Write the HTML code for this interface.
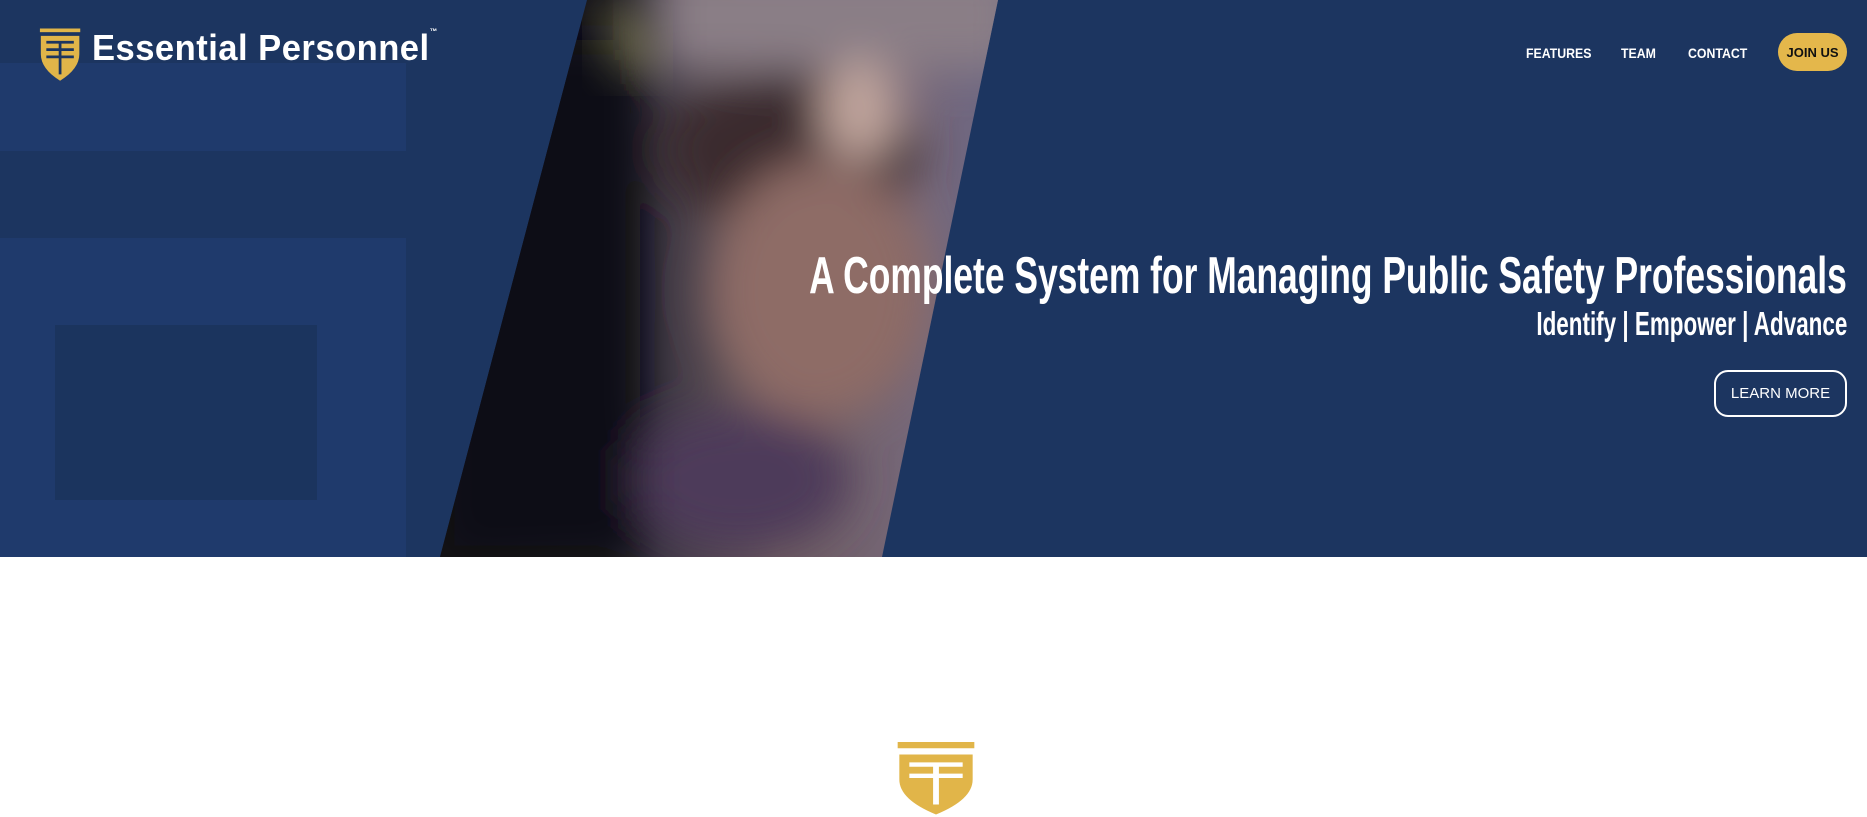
<!DOCTYPE html>
<html><head><meta charset="utf-8"><style>
*{margin:0;padding:0;box-sizing:border-box}
body{width:1867px;height:815px;overflow:hidden;background:#fff;font-family:"Liberation Sans",sans-serif;position:relative}
.hero{position:absolute;left:0;top:0;width:1867px;height:557px;background:#1c3560;overflow:hidden}
.blk{position:absolute;background:#1f3a6c}
.nav a{position:absolute;color:#fff;font-size:14px;font-weight:bold;text-decoration:none;top:45px;transform:scaleX(.88);transform-origin:left}
.title{position:absolute;right:20px;color:#fff;font-weight:bold;white-space:nowrap;transform-origin:right center}
</style></head><body>
<div class="hero">
  <div class="blk" style="left:0;top:63px;width:406px;height:88px"></div>
  <div class="blk" style="left:0;top:238px;width:406px;height:319px"></div>
  <div style="position:absolute;left:55px;top:325px;width:262px;height:175px;background:#1b345e"></div>
  <svg width="1867" height="557" style="position:absolute;left:0;top:0">
    <defs>
      <clipPath id="cp"><polygon points="587,0 998,0 882,557 440,557"/></clipPath>
      <filter id="bl" x="-20%" y="-20%" width="140%" height="140%"><feGaussianBlur stdDeviation="22"/></filter>
      <linearGradient id="g1" x1="0" y1="0" x2="1" y2="0">
        <stop offset="0" stop-color="#0c0a10"/><stop offset="0.3" stop-color="#15131b"/><stop offset="0.4" stop-color="#3e3844"/><stop offset="0.6" stop-color="#6e5c60"/><stop offset="0.85" stop-color="#76687a"/><stop offset="1" stop-color="#6a6684"/>
      </linearGradient>
    </defs>
    <g clip-path="url(#cp)">
      <rect x="430" y="0" width="580" height="557" fill="url(#g1)"/>
      <g filter="url(#bl)">
        <rect x="660" y="-40" width="360" height="110" fill="#8a7e86"/>
        <ellipse cx="790" cy="150" rx="130" ry="80" fill="#3a2c2e"/>
        <ellipse cx="820" cy="290" rx="110" ry="130" fill="#8e6c66"/>
        <ellipse cx="860" cy="110" rx="40" ry="50" fill="#c0a49c"/>
        <ellipse cx="740" cy="480" rx="110" ry="70" fill="#4e3a5a"/>
        <rect x="440" y="40" width="200" height="520" fill="#0e0c12"/>
      </g>
      <polygon points="595,10 630,0 660,60 620,80" fill="#a8a860" opacity="0.5" filter="url(#bl)"/>
    </g>
  </svg>
  <svg width="44" height="56" viewBox="0 0 48 60" style="position:absolute;left:39px;top:28px">
    <rect x="1" y="0" width="44" height="4" fill="#e1b549"/>
    <path d="M2 8 H44 V28 Q44 44 23 57 Q2 44 2 28 Z" fill="#e1b549"/>
    <path d="M8 15 H38 M8 23 H38 M8 31 H38 M23 15 V50" stroke="#1c3560" stroke-width="3"/>
  </svg>
  <div style="position:absolute;left:92px;top:27px;color:#fff;font-size:36px;font-weight:bold;letter-spacing:0.5px;transform:scaleX(.96);transform-origin:left">Essential Personnel<sup style="font-size:8px;vertical-align:top">™</sup></div>
  <div class="nav">
    <a style="left:1526px">FEATURES</a>
    <a style="left:1621px">TEAM</a>
    <a style="left:1688px">CONTACT</a>
  </div>
  <div style="position:absolute;left:1778px;top:33px;width:69px;height:38px;border-radius:19px;background:#e4b74b;color:#111;font-size:13px;font-weight:bold;display:flex;align-items:center;justify-content:center">JOIN US</div>
  <div class="title" style="top:246px;font-size:52px;transform:scaleX(.681)">A Complete System for Managing Public Safety Professionals</div>
  <div class="title" style="top:305px;font-size:33px;transform:scaleX(.68)">Identify | Empower | Advance</div>
  <div style="position:absolute;left:1714px;top:370px;width:133px;height:47px;border:2px solid #fff;border-radius:14px;color:#fff;font-size:15px;display:flex;align-items:center;justify-content:center">LEARN MORE</div>
</div>
<svg width="80" height="75" viewBox="0 0 48 60" preserveAspectRatio="none" style="position:absolute;left:896px;top:742px">
  <rect x="1" y="0" width="46" height="5" fill="#e1b549"/>
  <path d="M2 10 H46 V30 Q46 46 24 58 Q2 46 2 30 Z" fill="#e1b549"/>
  <path d="M8 18 H40 M8 27 H40 M24 18 V50" stroke="#fff" stroke-width="3.5"/>
</svg>
</body></html>
